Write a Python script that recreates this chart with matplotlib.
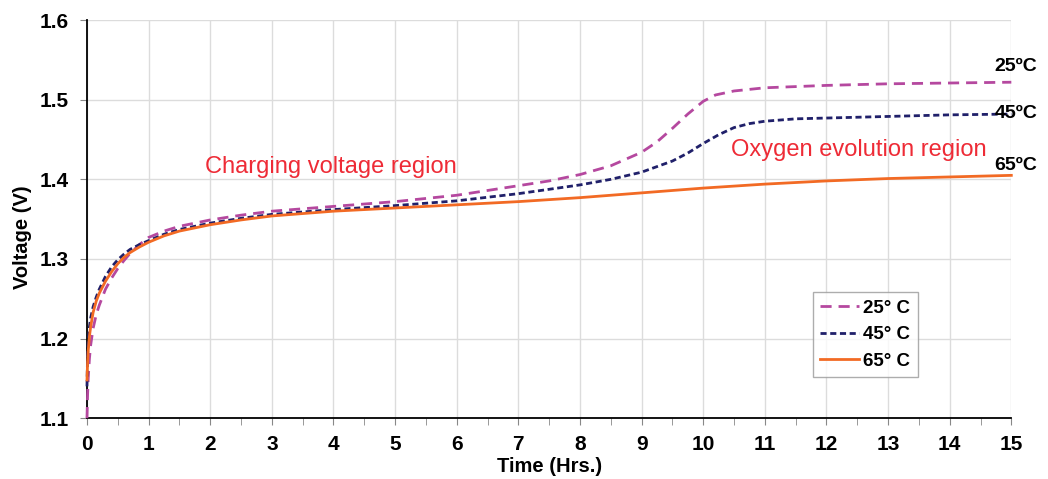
import matplotlib.pyplot as plt
from matplotlib.ticker import MultipleLocator

plt.rcParams['font.family'] = ['Liberation Sans', 'DejaVu Sans']

# Charging time (hours)
time_25 = [0, 0.01, 0.02, 0.04, 0.06, 0.1, 0.15, 0.2, 0.3, 0.4, 0.5, 0.6, 0.7, 0.85, 1.0, 1.25, 1.5, 2,
           2.5, 3, 4, 5, 6, 7, 7.5, 8, 8.5, 9, 9.25, 9.5, 9.75, 10, 10.2, 10.5, 11, 12, 13, 14, 15]
volt_25 = [1.100, 1.130, 1.150, 1.175, 1.192, 1.213, 1.230, 1.242, 1.262, 1.276, 1.288, 1.298, 1.307,
           1.318, 1.327, 1.335, 1.341, 1.349, 1.355, 1.360, 1.366, 1.372, 1.380, 1.392, 1.398, 1.406,
           1.417, 1.434, 1.447, 1.464, 1.482, 1.498, 1.506, 1.511, 1.515, 1.518, 1.520, 1.521, 1.522]

time_45 = [0, 0.01, 0.02, 0.04, 0.06, 0.1, 0.15, 0.2, 0.3, 0.4, 0.5, 0.6, 0.7, 0.85, 1.0, 1.25, 1.5, 2,
           2.5, 3, 4, 5, 6, 7, 8, 8.5, 9, 9.5, 9.75, 10, 10.25, 10.5, 10.75, 11, 11.5, 12, 13, 14, 15]
volt_45 = [1.140, 1.180, 1.198, 1.215, 1.226, 1.240, 1.252, 1.262, 1.278, 1.290, 1.299, 1.306, 1.312,
           1.318, 1.323, 1.331, 1.337, 1.345, 1.351, 1.356, 1.362, 1.367, 1.373, 1.382, 1.393, 1.400,
           1.409, 1.423, 1.433, 1.445, 1.456, 1.465, 1.470, 1.473, 1.476, 1.477, 1.479, 1.481, 1.482]

time_65 = [0, 0.01, 0.02, 0.04, 0.06, 0.1, 0.15, 0.2, 0.3, 0.4, 0.5, 0.6, 0.7, 0.85, 1.0, 1.25, 1.5, 2,
           2.5, 3, 4, 5, 6, 7, 8, 9, 10, 11, 12, 13, 14, 15]
volt_65 = [1.148, 1.170, 1.185, 1.203, 1.215, 1.233, 1.247, 1.257, 1.272, 1.284, 1.294, 1.302, 1.308,
           1.315, 1.321, 1.329, 1.335, 1.343, 1.349, 1.354, 1.360, 1.364, 1.368, 1.372, 1.377, 1.383,
           1.389, 1.394, 1.398, 1.401, 1.403, 1.405]

series = [
    (time_25, volt_25, '25° C', '#b5489f', (0, (4, 2.5))),
    (time_45, volt_45, '45° C', '#20206a', (0, (2.2, 1.3))),
    (time_65, volt_65, '65° C', '#f26a24', '-'),
]

end_labels = ['25ºC', '45ºC', '65ºC']
end_label_y = [1.542, 1.483, 1.417]

x_ticks = list(range(0, 16))
y_ticks = [1.1, 1.2, 1.3, 1.4, 1.5, 1.6]

fig = plt.figure(figsize=(10.48, 4.79), dpi=100)
ax = fig.add_axes([0.083, 0.127, 0.882, 0.831])

for t, v, lab, col, ls in series:
    ax.plot(t, v, color=col, linestyle=ls, linewidth=2, label=lab, clip_on=False, zorder=3)

for lab, y in zip(end_labels, end_label_y):
    ax.text(14.73, y, lab, fontsize=14, fontweight='bold', va='center', ha='left')

ax.text(1.92, 1.415, 'Charging voltage region', color='#ee2b36', fontsize=17, va='center')
ax.text(10.45, 1.437, 'Oxygen evolution region', color='#ee2b36', fontsize=17, va='center')

ax.set_xlim(0, 15)
ax.set_ylim(1.1, 1.6)
ax.xaxis.set_minor_locator(MultipleLocator(0.5))
ax.grid(True, which='major', color='#dcdcdc', linewidth=1)
ax.set_axisbelow(True)

for s in ['top', 'right']:
    ax.spines[s].set_visible(False)
for s in ['left', 'bottom']:
    ax.spines[s].set_linewidth(1.3)

ax.tick_params(axis='x', which='major', direction='out', length=5, color='#888888', pad=7)
ax.tick_params(axis='y', which='major', direction='out', length=5, color='#888888', pad=8)
ax.tick_params(axis='x', which='minor', direction='out', length=5, color='#888888')

ax.set_xticks(x_ticks)
ax.set_xticklabels([str(x) for x in x_ticks], fontsize=15, fontweight='bold')
ax.set_yticks(y_ticks)
ax.set_yticklabels([f'{y:.1f}' for y in y_ticks], fontsize=15, fontweight='bold')

ax.set_xlabel('Time (Hrs.)', fontsize=14.5, fontweight='bold')
ax.set_ylabel('Voltage (V)', fontsize=14.5, fontweight='bold')
ax.xaxis.set_label_coords(0.5, -0.097)
ax.yaxis.set_label_coords(-0.06, 0.455)

leg = ax.legend(loc='upper left', bbox_to_anchor=(0.785, 0.317), borderaxespad=0, fontsize=13.5,
                frameon=True, fancybox=False, edgecolor='#999999', handlelength=2.1,
                handletextpad=0.2, borderpad=0.4, labelspacing=0.5)
leg.get_frame().set_linewidth(1)
for txt in leg.get_texts():
    txt.set_fontweight('bold')

fig.savefig('out.png', dpi=100)
